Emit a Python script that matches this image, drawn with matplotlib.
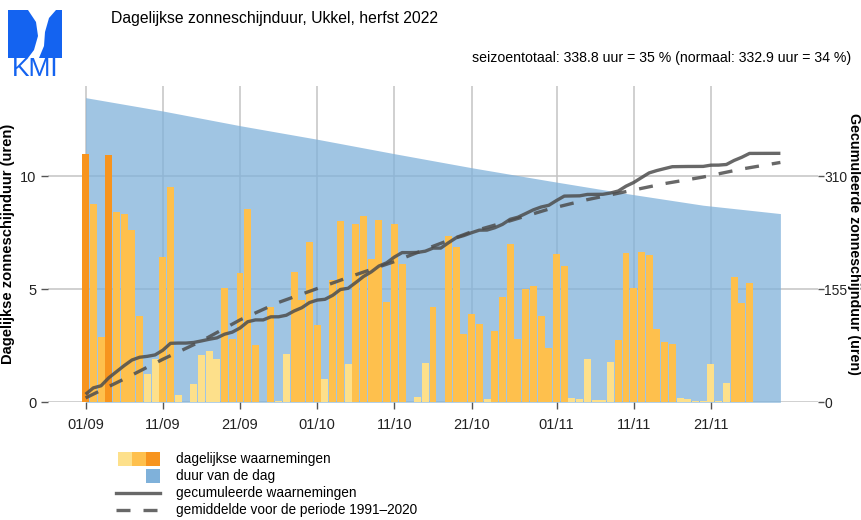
import numpy as np
import pandas as pd
import matplotlib
matplotlib.use("Agg")
import matplotlib.pyplot as plt
from matplotlib.patches import Rectangle, Polygon
from matplotlib.lines import Line2D

plt.rcParams['font.family'] = ['Liberation Sans', 'DejaVu Sans']

# Dagen van de herfst 2022
dagen = pd.date_range('2022-09-01', '2022-11-30', freq='D')

zon = [11.0, 8.76, 2.89, 10.93, 8.42, 8.35, 7.63, 3.81, 1.27, 1.93,
       6.42, 9.51, 0.32, 0.0, 0.82, 2.11, 2.27, 1.91, 5.07, 2.80,
       5.71, 8.56, 2.52, 0.0, 4.23, 0.06, 2.12, 5.76, 4.54, 7.08,
       3.42, 1.05, 5.43, 8.01, 1.68, 7.91, 8.26, 6.32, 8.06, 4.43,
       7.88, 6.10, 0.0, 0.22, 1.72, 4.21, 0.0, 7.35, 6.85, 3.02,
       3.92, 3.48, 0.15, 3.15, 4.64, 7.00, 2.81, 5.01, 5.13, 3.83,
       2.40, 6.55, 6.05, 0.21, 0.16, 1.91, 0.10, 0.10, 1.77, 2.75,
       6.61, 5.07, 6.64, 6.51, 3.23, 2.67, 2.59, 0.18, 0.13, 0.04,
       0.06, 1.71, 0.07, 0.84, 5.54, 4.39, 5.27, 0.03, 0.03, 0.03, 0.03]

# Klasse van elke dag: 0 = weinig zon, 1 = gemiddeld, 2 = veel zon
klasse = [2, 1, 1, 2, 1, 1, 1, 1, 0, 0,
          1, 1, 0, 0, 0, 0, 0, 0, 1, 1,
          1, 1, 1, 0, 1, 0, 0, 1, 1, 1,
          1, 0, 1, 1, 0, 1, 1, 1, 1, 1,
          1, 1, 0, 0, 0, 1, 0, 1, 1, 1,
          1, 1, 0, 1, 1, 1, 1, 1, 1, 1,
          1, 1, 1, 0, 0, 0, 0, 0, 0, 1,
          1, 1, 1, 1, 1, 1, 1, 0, 0, 0,
          0, 0, 0, 0, 1, 1, 1, 0, 0, 0, 0]

daglengte_dag = [0, 10, 20, 30, 40, 50, 60, 70, 80, 90]
daglengte = [13.48, 12.89, 12.24, 11.64, 11.00, 10.38, 9.80, 9.24, 8.72, 8.35]

normaal_dag = [0, 5, 10, 15, 20, 25, 30, 35, 40, 45, 50, 55, 60, 65, 70, 75, 80, 85, 90]
normaal_cum = [6, 32, 59, 84, 113, 137, 156, 175, 193, 214, 234, 249, 265, 278,
               289, 300, 309, 320, 329]

links_ticks = [0, 5, 10]
rechts_ticks = [0, 155, 310]

kleuren = ['#FDE08B', '#FEC04D', '#F7941E']
blauw = '#7FB1DA'
lijnkleur = '#4D4D4D'

W, H = 862, 520


def px(x, y):
    """Pixelcoördinaten (vanaf linksboven) naar figuurcoördinaten."""
    return x / W, 1 - y / H


fig = plt.figure(figsize=(W / 100, H / 100), dpi=100)

# Hoofdgrafiek
x0, y0 = px(48, 402.3)
x1, y1 = px(818, 86)
ax = fig.add_axes([x0, y0, x1 - x0, y1 - y0])
ytop = (402.3 - 86) / 22.6
ax.set_xlim(-4.87, 94.87)
ax.set_ylim(0, ytop)

dag = np.arange(len(zon))
tick_pos = [i for i, d in enumerate(dagen) if d.day in (1, 11, 21)]
tick_labels = [dagen[i].strftime('%d/%m') for i in tick_pos]

ax.set_axisbelow(True)
ax.grid(True, color='#C4C4C4', linewidth=1.1)
ax.fill_between(daglengte_dag, 0, daglengte, color=blauw, alpha=0.74,
                linewidth=0, zorder=1)
ax.bar(dag, zon, width=0.9, color=[kleuren[k] for k in klasse],
       linewidth=0, zorder=2)

ax.set_xticks(tick_pos)
ax.set_xticklabels(tick_labels)
ax.set_yticks(links_ticks)
for s in ax.spines.values():
    s.set_visible(False)
ax.tick_params(axis='both', colors='#555555', labelcolor='#222222',
               labelsize=10.5, length=5, width=1)
ax.tick_params(axis='x', pad=6)
ax.set_ylabel('Dagelijkse zonneschijnduur (uren)', fontsize=10.6,
              fontweight='bold')
ax.yaxis.set_label_coords(-33 / 770, 0.5)

# Rechteras: gecumuleerde waarden
ax2 = ax.twinx()
ax2.set_ylim(0, ytop * 31)
ax2.set_yticks(rechts_ticks)
for s in ax2.spines.values():
    s.set_visible(False)
ax2.tick_params(axis='y', colors='#555555', labelcolor='#222222',
                labelsize=10, length=4, width=1, pad=0.5)
ax2.set_ylabel('Gecumuleerde zonneschijnduur (uren)', fontsize=10.3,
               fontweight='bold', rotation=-90, va='center')
ax2.yaxis.set_label_coords(1 + 36 / 770, 0.5)
ax2.plot(dag, np.cumsum(zon), color=lijnkleur, lw=2.4, alpha=0.85,
         solid_capstyle='butt')
ax2.plot(normaal_dag, normaal_cum, color=lijnkleur, lw=2.4, alpha=0.85,
         dashes=(4.2, 3.9))

# Titels
fig.text(*px(111, 18), 'Dagelijkse zonneschijnduur, Ukkel, herfst 2022',
         fontsize=11.3, va='center', ha='left', color='black')
fig.text(*px(851, 58),
         'seizoentotaal: 338.8 uur = 35 % (normaal: 332.9 uur = 34 %)',
         fontsize=10.2, va='center', ha='right', color='black')

# Logo KMI (benadering)
lx0, ly0 = px(8, 78)
lx1, ly1 = px(62, 8)
lax = fig.add_axes([lx0, ly0, lx1 - lx0, ly1 - ly0])
lax.set_xlim(0, 54)
lax.set_ylim(70, 0)
lax.axis('off')
logo = '#1463F0'
lax.add_patch(Rectangle((0, 2), 54, 48, color=logo, lw=0))
lax.add_patch(Polygon([(20, 2), (48, 2), (41, 10), (37, 24), (36, 38), (31, 50),
                       (20, 50), (26, 42), (30, 28), (28, 14)],
                      closed=True, color='white', lw=0))
lax.text(27, 61.5, 'KMI', color=logo, fontsize=19, ha='center', va='center')

# Legende
for i, k in enumerate(kleuren):
    xa, ya = px(118 + 14 * i, 466)
    fig.add_artist(Rectangle((xa, ya), 14 / W, 14 / H, color=k, lw=0,
                             transform=fig.transFigure))
xa, ya = px(146, 483)
fig.add_artist(Rectangle((xa, ya), 14 / W, 14 / H, color=blauw, lw=0,
                         transform=fig.transFigure))
fig.add_artist(Line2D([116 / W, 160 / W], [1 - 493 / H] * 2, color=lijnkleur,
                      lw=2.4, alpha=0.85, transform=fig.transFigure))
fig.add_artist(Line2D([116 / W, 160 / W], [1 - 510 / H] * 2, color=lijnkleur,
                      lw=2.4, alpha=0.85, dashes=(4.2, 3.9),
                      transform=fig.transFigure))
legend_teksten = ['dagelijkse waarnemingen', 'duur van de dag',
                  'gecumuleerde waarnemingen',
                  'gemiddelde voor de periode 1991\u20132020']
for i, t in enumerate(legend_teksten):
    fig.text(*px(176, 459 + 17 * i), t, fontsize=9.8, va='center', ha='left')

fig.savefig('out.png', dpi=100)
